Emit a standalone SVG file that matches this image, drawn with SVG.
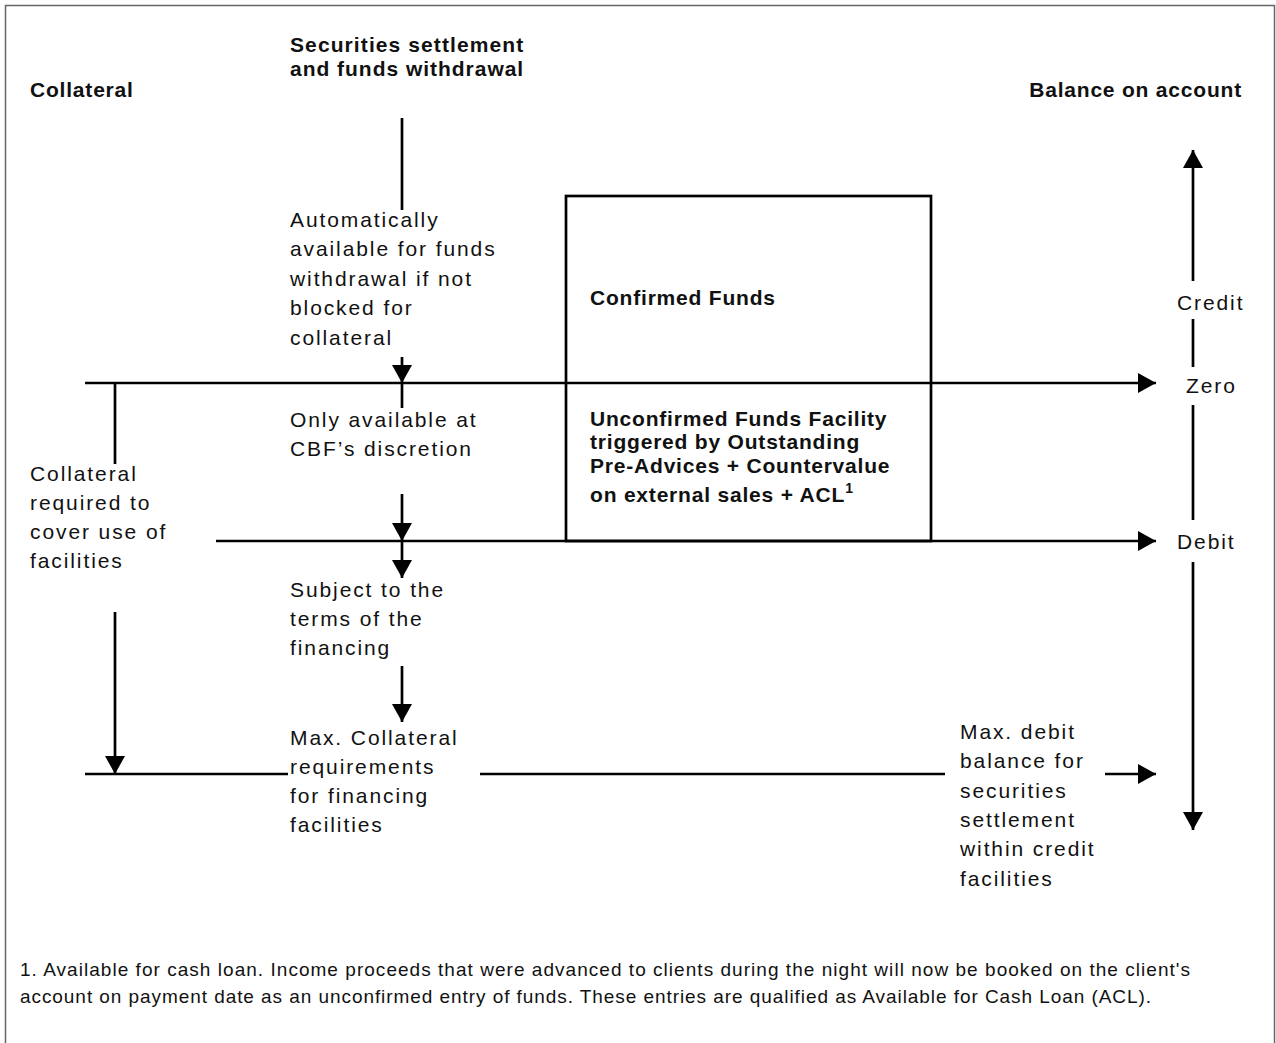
<svg xmlns="http://www.w3.org/2000/svg" width="1276" height="1043" viewBox="0 0 1276 1043">
<defs>
<style>
.t{font-family:"Liberation Sans",Arial,sans-serif;font-size:21px;letter-spacing:1.9px;fill:#111}
.b{font-family:"Liberation Sans",Arial,sans-serif;font-size:21px;font-weight:bold;letter-spacing:0.8px;fill:#111}
.fn{font-family:"Liberation Sans",Arial,sans-serif;font-size:19px;fill:#111}
.ln{stroke:#000;stroke-width:2.7;fill:none}
.arr{stroke:#000;stroke-width:2.7;fill:none;marker-end:url(#ah)}
</style>
<marker id="ah" markerUnits="userSpaceOnUse" markerWidth="18" markerHeight="20" refX="18" refY="10" orient="auto" viewBox="0 0 18 20">
<path d="M0,0 L18,10 L0,20 z" fill="#000"/>
</marker>
</defs>
<rect x="0" y="0" width="1276" height="1043" fill="#fff"/>
<rect x="5.5" y="5.5" width="1269" height="1060" fill="none" stroke="#666" stroke-width="1.5"/>

<g id="connectors">
<line class="ln" x1="402" y1="118" x2="402" y2="210"/>
<line class="arr" x1="402" y1="357" x2="402" y2="383"/>
<line class="ln" x1="402" y1="383" x2="402" y2="408"/>
<line class="arr" x1="85" y1="383" x2="1156" y2="383"/>
<line class="ln" x1="115" y1="383" x2="115" y2="464"/>
<line class="arr" x1="402" y1="494" x2="402" y2="541"/>
<line class="arr" x1="216" y1="541" x2="1156" y2="541"/>
<line class="arr" x1="402" y1="541" x2="402" y2="578"/>
<line class="arr" x1="402" y1="666" x2="402" y2="722"/>
<line class="arr" x1="115" y1="612" x2="115" y2="774"/>
<line class="ln" x1="85" y1="774" x2="288" y2="774"/>
<line class="ln" x1="480" y1="774" x2="945" y2="774"/>
<line class="arr" x1="1105" y1="774" x2="1156" y2="774"/>
<line class="arr" x1="1193" y1="281" x2="1193" y2="150"/>
<line class="ln" x1="1193" y1="319" x2="1193" y2="367"/>
<line class="ln" x1="1193" y1="405" x2="1193" y2="520"/>
<line class="arr" x1="1193" y1="562" x2="1193" y2="830"/>
</g>

<g id="facility-box">
<rect class="ln" x="566" y="196" width="365" height="345"/>
<text class="b" x="590" y="305">Confirmed Funds</text>
<text class="b" x="590" y="426">Unconfirmed Funds Facility</text>
<text class="b" x="590" y="449">triggered by Outstanding</text>
<text class="b" x="590" y="473">Pre-Advices + Countervalue</text>
<text class="b" x="590" y="502">on external sales + ACL<tspan font-size="14" dy="-9">1</tspan></text>
</g>

<g id="heading-collateral"><text class="b" x="30" y="97">Collateral</text></g>
<g id="heading-settlement">
<text class="b" x="290" y="52" textLength="234" lengthAdjust="spacing">Securities settlement</text>
<text class="b" x="290" y="76" textLength="234" lengthAdjust="spacing">and funds withdrawal</text>
</g>
<g id="heading-balance"><text class="b" x="1242" y="97" text-anchor="end">Balance on account</text></g>

<g id="auto-available">
<text class="t" x="290" y="227">Automatically</text>
<text class="t" x="290" y="256">available for funds</text>
<text class="t" x="290" y="286">withdrawal if not</text>
<text class="t" x="290" y="315">blocked for</text>
<text class="t" x="290" y="345">collateral</text>
</g>
<g id="cbf-discretion">
<text class="t" x="290" y="427">Only available at</text>
<text class="t" x="290" y="456">CBF’s discretion</text>
</g>
<g id="collateral-required">
<text class="t" x="30" y="481">Collateral</text>
<text class="t" x="30" y="510">required to</text>
<text class="t" x="30" y="539">cover use of</text>
<text class="t" x="30" y="568">facilities</text>
</g>
<g id="terms-financing">
<text class="t" x="290" y="597">Subject to the</text>
<text class="t" x="290" y="626">terms of the</text>
<text class="t" x="290" y="655">financing</text>
</g>
<g id="max-collateral">
<text class="t" x="290" y="745">Max. Collateral</text>
<text class="t" x="290" y="774">requirements</text>
<text class="t" x="290" y="803">for financing</text>
<text class="t" x="290" y="832">facilities</text>
</g>
<g id="max-debit">
<text class="t" x="960" y="739">Max. debit</text>
<text class="t" x="960" y="768">balance for</text>
<text class="t" x="960" y="798">securities</text>
<text class="t" x="960" y="827">settlement</text>
<text class="t" x="960" y="856">within credit</text>
<text class="t" x="960" y="886">facilities</text>
</g>
<g id="axis-labels">
<text class="t" x="1177" y="310">Credit</text>
<text class="t" x="1186" y="393">Zero</text>
<text class="t" x="1177" y="549">Debit</text>
</g>
<g id="footnote">
<text class="fn" x="20" y="976" textLength="1170" lengthAdjust="spacing">1. Available for cash loan. Income proceeds that were advanced to clients during the night will now be booked on the client's</text>
<text class="fn" x="20" y="1003" textLength="1131" lengthAdjust="spacing">account on payment date as an unconfirmed entry of funds. These entries are qualified as Available for Cash Loan (ACL).</text>
</g>
</svg>
